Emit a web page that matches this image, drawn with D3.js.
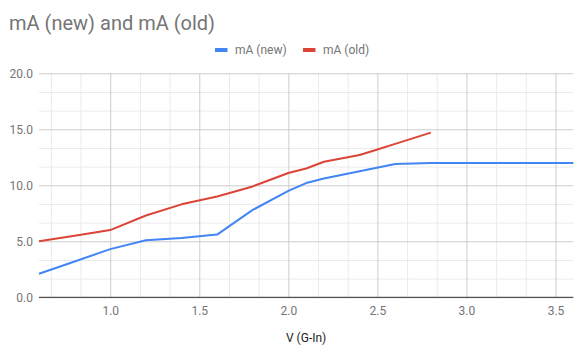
<!DOCTYPE html>
<html><head><meta charset="utf-8">
<script src="https://cdn.jsdelivr.net/npm/d3@7/dist/d3.min.js"></script>
<style>body{margin:0;background:#fff}svg{display:block;font-family:Roboto,Arial,sans-serif}</style>
</head><body>
<script>
const xNew = [0.6,0.8,1.0,1.2,1.4,1.6,1.8,2.0,2.1,2.2,2.4,2.6,2.8,3.0,3.2,3.4,3.6];
const yNew = [2.1,3.2,4.3,5.1,5.3,5.6,7.8,9.5,10.2,10.6,11.25,11.9,12.0,12.0,12.0,12.0,12.0];
const xOld = [0.6,0.8,1.0,1.2,1.4,1.6,1.8,2.0,2.1,2.2,2.4,2.5,2.6,2.8];
const yOld = [5.0,5.5,6.0,7.3,8.3,9.0,9.9,11.1,11.5,12.1,12.7,13.2,13.7,14.7];
const xTicks = [1.0,1.5,2.0,2.5,3.0,3.5];
const yTicks = [0,5,10,15,20];
const seriesNames = ["mA (new)","mA (old)"];
const colors = ["#4285f4","#db4437"];

const W=586,H=355, L=39, R=573.3, T=73.3, B=297.3;
const svg=d3.select("body").append("svg").attr("width",W).attr("height",H);
const x=d3.scaleLinear().domain([0.6,3.6]).range([L,R]);
const y=d3.scaleLinear().domain([0,20]).range([B,T]);

// minor gridlines
const xMinor=[]; for(let v=0.5;v<3.6;v+=0.5){ for(let k=1;k<3;k++){ const m=v+k*0.5/3; if(m>0.6&&m<3.6) xMinor.push(m);} }
const yMinor=[]; for(let v=0;v<20;v+=5){ for(let k=1;k<3;k++) yMinor.push(v+k*5/3); }
svg.append("g").attr("transform",`translate(0,${B})`).call(d3.axisBottom(x).tickValues(xMinor).tickSize(-(B-T)).tickFormat(""))
  .call(g=>{g.select(".domain").remove();g.selectAll("line").attr("stroke","#ebebeb");});
svg.append("g").attr("transform",`translate(${L},0)`).call(d3.axisLeft(y).tickValues(yMinor).tickSize(-(R-L)).tickFormat(""))
  .call(g=>{g.select(".domain").remove();g.selectAll("line").attr("stroke","#ebebeb");});
// major gridlines
svg.append("g").attr("transform",`translate(0,${B})`).call(d3.axisBottom(x).tickValues(xTicks).tickSize(-(B-T)).tickFormat(d3.format(".1f")).tickPadding(9))
  .call(g=>{g.select(".domain").remove();g.selectAll("line").attr("stroke","#cccccc");
    g.selectAll("text").attr("fill","#757575").attr("font-size",12).attr("font-family","Roboto,Arial,sans-serif");});
svg.append("g").attr("transform",`translate(${L},0)`).call(d3.axisLeft(y).tickValues(yTicks).tickSize(-(R-L)).tickFormat(d3.format(".1f")).tickPadding(6))
  .call(g=>{g.select(".domain").remove();g.selectAll("line").attr("stroke","#cccccc");
    g.selectAll("text").attr("fill","#757575").attr("font-size",12).attr("font-family","Roboto,Arial,sans-serif");});
// baseline
svg.append("line").attr("x1",L).attr("x2",R).attr("y1",y(0)).attr("y2",y(0)).attr("stroke","#333").attr("stroke-width",1);

const line=d3.line().x(d=>x(d[0])).y(d=>y(d[1]));
const data=[xNew.map((v,i)=>[v,yNew[i]]), xOld.map((v,i)=>[v,yOld[i]])];
data.forEach((d,i)=>svg.append("path").datum(d).attr("d",line).attr("fill","none").attr("stroke",colors[i]).attr("stroke-width",2).attr("stroke-linejoin","round"));

// title
svg.append("text").attr("x",9).attr("y",30).attr("font-size",20).attr("fill","#757575").text("mA (new) and mA (old)");
// legend
const lg=[{x:215,tx:235},{x:303,tx:323}];
seriesNames.forEach((n,i)=>{
  svg.append("rect").attr("x",lg[i].x).attr("y",48).attr("width",12.5).attr("height",4).attr("fill",colors[i]);
  svg.append("text").attr("x",lg[i].tx).attr("y",54).attr("font-size",12).attr("fill","#757575").text(n);
});
// x axis title
svg.append("text").attr("x",(L+R)/2).attr("y",342).attr("text-anchor","middle").attr("font-size",12).attr("fill","#222").text("V (G-In)");
</script>
</body></html>
